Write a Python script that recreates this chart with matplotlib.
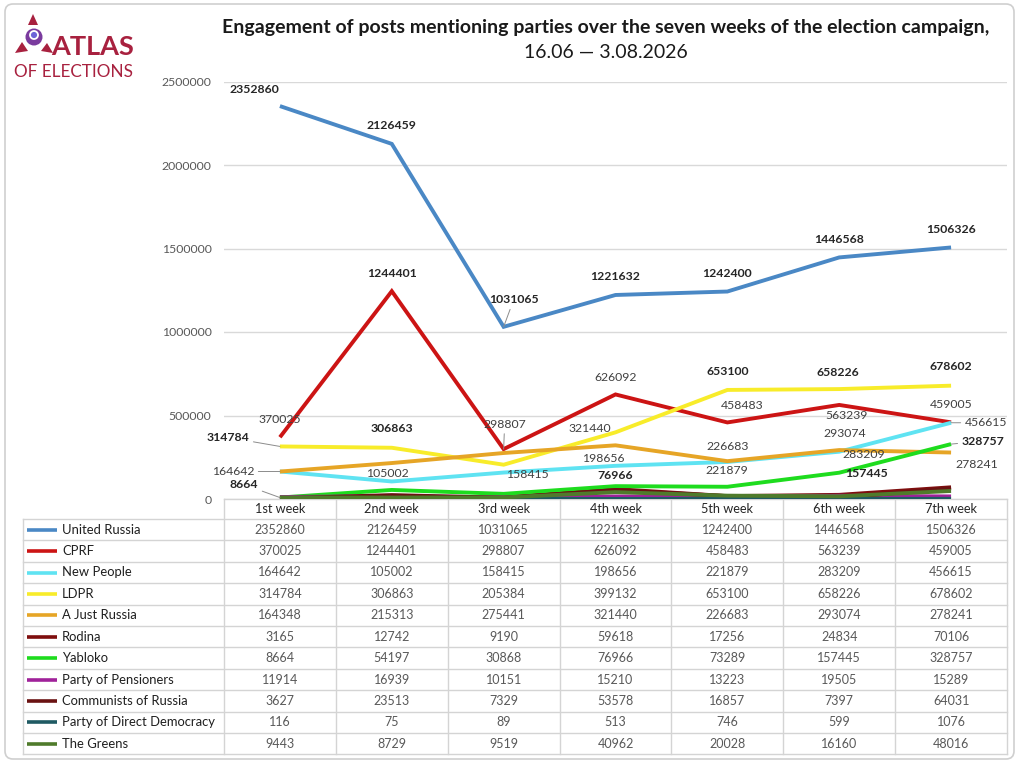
import matplotlib
matplotlib.use("Agg")
import matplotlib.pyplot as plt
from matplotlib.patches import Polygon, Circle, FancyBboxPatch

plt.rcParams['font.family'] = ['Lato', 'DejaVu Sans']

# ---------------- data ----------------
weeks = ["1st week", "2nd week", "3rd week", "4th week", "5th week", "6th week", "7th week"]
parties = ["United Russia", "CPRF", "New People", "LDPR", "A Just Russia", "Rodina",
           "Yabloko", "Party of Pensioners", "Communists of Russia",
           "Party of Direct Democracy", "The Greens"]
united_russia = [2352860, 2126459, 1031065, 1221632, 1242400, 1446568, 1506326]
cprf = [370025, 1244401, 298807, 626092, 458483, 563239, 459005]
new_people = [164642, 105002, 158415, 198656, 221879, 283209, 456615]
ldpr = [314784, 306863, 205384, 399132, 653100, 658226, 678602]
a_just_russia = [164348, 215313, 275441, 321440, 226683, 293074, 278241]
rodina = [3165, 12742, 9190, 59618, 17256, 24834, 70106]
yabloko = [8664, 54197, 30868, 76966, 73289, 157445, 328757]
pensioners = [11914, 16939, 10151, 15210, 13223, 19505, 15289]
communists = [3627, 23513, 7329, 53578, 16857, 7397, 64031]
direct_democracy = [116, 75, 89, 513, 746, 599, 1076]
greens = [9443, 8729, 9519, 40962, 20028, 16160, 48016]
yticks = [0, 500000, 1000000, 1500000, 2000000, 2500000]

series = [united_russia, cprf, new_people, ldpr, a_just_russia, rodina, yabloko,
          pensioners, communists, direct_democracy, greens]
colors = ["#4A88C5", "#CC1414", "#5FE3F2", "#F8EC2A", "#E6A526", "#7E0E0E",
          "#1EDC1E", "#A0229A", "#6A1212", "#1F5A63", "#4F7B2B"]

# label layout: series index -> list of (week, dx px, dy px, bold, leader)
label_layout = {
    0: [(0, -26, 17, True, False), (1, 0, 18, True, False), (2, 10, 27, True, True),
        (3, 0, 18, True, False), (4, 0, 18, True, False), (5, 0, 18, True, False),
        (6, 0, 18, True, False)],
    1: [(0, 0, 18, False, False), (1, 0, 18, True, False), (2, 1, 25, False, True),
        (3, 0, 17, False, False), (4, 15, 17, False, False), (5, 7, -11, False, False),
        (6, 0, 18, False, False)],
    2: [(0, -47, 0, False, True), (1, -4, 8, False, False), (2, 24, -2, False, False),
        (3, -12, 7, False, False), (4, -1, -9, False, False), (5, 25, -3, False, False),
        (6, 35, 0, False, True)],
    3: [(0, -52, 9, True, True), (1, 0, 19, True, False), (4, 0, 18, True, False),
        (5, -1, 17, True, False), (6, 0, 19, True, False)],
    4: [(3, -26, 17, False, False), (4, 0, 15, False, False), (5, 6, 17, False, False),
        (6, 26, -12, False, False)],
    6: [(0, -36, 13, True, True), (3, 0, 11, True, False), (5, 27, -1, True, False),
        (6, 32, 3, True, True)],
}

W, H = 1024, 763
fig = plt.figure(figsize=(W / 100, H / 100), dpi=100)

# overlay in pixel coordinates
ov = fig.add_axes([0, 0, 1, 1])
ov.set_xlim(0, W)
ov.set_ylim(H, 0)
ov.axis("off")

# outer rounded border
ov.add_patch(FancyBboxPatch((5, 4), 1009, 755, boxstyle="round,pad=0,rounding_size=8",
                            fc="none", ec="#cfcfcf", lw=1.2))

# logo
logo_c = "#A8213F"
ov.add_patch(Polygon([(28, 25), (33, 14), (38, 25)], closed=True, fc=logo_c, ec="none"))
ov.add_patch(Polygon([(15, 53), (22, 42), (28, 51)], closed=True, fc=logo_c, ec="none"))
ov.add_patch(Polygon([(41, 51), (47, 43), (53, 53)], closed=True, fc=logo_c, ec="none"))
ov.add_patch(Circle((34, 37), 8.5, fc="#7A3B9E", ec="none"))
ov.add_patch(Circle((34, 35), 4, fc="#6C63D8", ec="white", lw=1.3))
ov.text(51, 47, "ATLAS", color=logo_c, fontsize=19.5, fontweight="bold", ha="left", va="center")
ov.text(14, 72, "OF ELECTIONS", color=logo_c, fontsize=12.3, fontweight="normal",
        ha="left", va="center")

# title
ov.text(606, 28, "Engagement of posts mentioning parties over the seven weeks of the election campaign,",
        fontsize=14, fontweight="bold", color="#1a1a1a", ha="center", va="center")
ov.text(606, 52, "16.06 \u2014 3.08.2026", fontsize=14, color="#1a1a1a", ha="center", va="center")

# ---------------- main chart ----------------
ax_left, ax_right, ax_bottom, ax_top = 224, 1007, 499, 81.5
ax = fig.add_axes([ax_left / W, (H - ax_bottom) / H, (ax_right - ax_left) / W,
                   (ax_bottom - ax_top) / H])
ax.set_facecolor("none")
x = list(range(len(weeks)))
for vals, c in zip(series, colors):
    ax.plot(x, vals, color=c, lw=2.8, solid_joinstyle="miter", solid_capstyle="butt", zorder=3)
ax.set_xlim(-0.5, len(weeks) - 0.5)
ax.set_ylim(0, yticks[-1])
ax.set_yticks(yticks)
ax.set_yticklabels([str(t) for t in yticks])
ax.set_xticks([])
ax.tick_params(axis="y", length=0, pad=9, labelsize=8.8, labelcolor="#595959")
for s in ax.spines.values():
    s.set_visible(False)
ax.grid(axis="y", color="#d9d9d9", lw=1)
ax.set_axisbelow(True)

for si, specs in label_layout.items():
    vals = series[si]
    for (wi, dx, dy, bold, leader) in specs:
        kw = dict(textcoords="offset pixels", xytext=(dx, dy), ha="center", va="center",
                  fontsize=8.8, color="#262626" if bold else "#404040",
                  fontweight="bold" if bold else "normal", zorder=5)
        if leader:
            kw["arrowprops"] = dict(arrowstyle="-", color="#8c8c8c", lw=0.7,
                                    shrinkA=1, shrinkB=0)
        ax.annotate(str(vals[wi]), xy=(wi, vals[wi]), **kw)

# ---------------- data table ----------------
grid_c = "#d4d4d4"
col_w = (ax_right - ax_left) / len(weeks)
row_h = 21.4
t_top = 519
t_left = 23
n_rows = len(parties)
t_bottom = t_top + n_rows * row_h
# header
ov.plot([ax_left, ax_right], [ax_bottom, ax_bottom], color=grid_c, lw=1)
for j in range(len(weeks) + 1):
    xx = ax_left + j * col_w
    ov.plot([xx, xx], [ax_bottom, t_bottom], color=grid_c, lw=1)
for j, wk in enumerate(weeks):
    ov.text(ax_left + (j + 0.5) * col_w, (ax_bottom + t_top) / 2, wk, fontsize=9.2,
            color="#262626", ha="center", va="center")
for i in range(n_rows + 1):
    yy = t_top + i * row_h
    ov.plot([t_left, ax_right], [yy, yy], color=grid_c, lw=1)
ov.plot([t_left, t_left], [t_top, t_bottom], color=grid_c, lw=1)
for i, (p, vals, c) in enumerate(zip(parties, series, colors)):
    yc = t_top + (i + 0.5) * row_h
    ov.plot([27, 57], [yc, yc], color=c, lw=2.6, solid_capstyle="butt")
    ov.text(62, yc, p, fontsize=9.4, color="#1f1f1f", ha="left", va="center")
    for j, v in enumerate(vals):
        ov.text(ax_left + (j + 0.5) * col_w, yc, str(v), fontsize=9, color="#595959",
                ha="center", va="center")

fig.savefig("out.png", dpi=100, facecolor="white")
